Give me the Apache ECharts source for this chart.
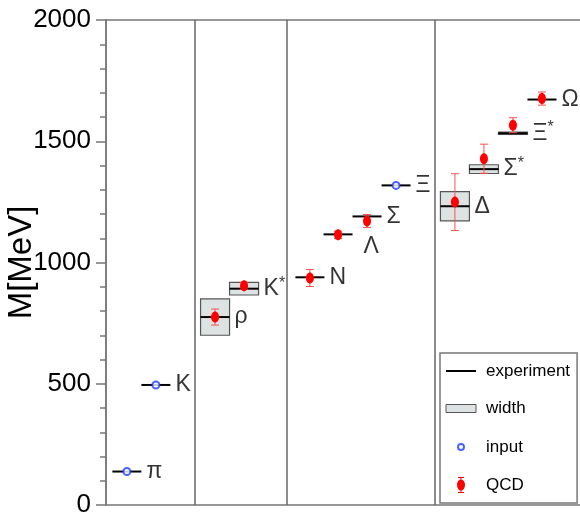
<!DOCTYPE html>
<html>
<head>
<meta charset="utf-8">
<title>Hadron spectrum</title>
<script src="https://cdn.jsdelivr.net/npm/echarts@6/dist/echarts.min.js"></script>
<style>
  html, body { margin: 0; padding: 0; background: #fff; }
  #chart { width: 580px; height: 519px; }
</style>
</head>
<body>
<div id="chart"></div>
<script type="text/javascript">
// particles, in plotting order
var names    = ['π', 'K', 'ρ', 'K*', 'N', 'Λ', 'Σ', 'Ξ', 'Δ', 'Σ*', 'Ξ*', 'Ω'];
var slots    = [0.72, 1.72, 3.76, 4.76, 7.03, 8, 9, 10, 12.03, 13.03, 14.03, 15.03];
var expMass  = [138, 495, 775, 892, 939, 1116, 1190, 1318, 1232, 1385, 1533, 1672];
var expWidth = [0, 0, 75, 26, 0, 0, 0, 0, 60, 18, 5, 0];      // half width of the box
var inputIdx = [0, 1, 7];                                      // π, K, Ξ are inputs
var qcdIdx   = [2, 3, 4, 5, 6, 8, 9, 10, 11];
var qcdMass  = [775, 904, 936, 1114, 1171, 1249, 1428, 1566, 1676];
var qcdErr   = [33, 14, 35, 15, 27, 117, 60, 31, 27];
var separators = [3.07, 6.24, 11.34];
var yTicks = [0, 500, 1000, 1500, 2000];

var HALF = 0.5;
var FONT = "'Liberation Sans', Arial, sans-serif";

var chart = echarts.init(document.getElementById('chart'));

var expData = [], boxData = [], labelData = [], inputData = [], qcdData = [];
for (var i = 0; i < names.length; i++) {
  expData.push([slots[i], expMass[i]]);
  if (expWidth[i] > 0) boxData.push([slots[i], expMass[i], expWidth[i]]);
  var nm = names[i];
  var txt = nm.length > 1 ? nm.charAt(0) + '{s|*}' : nm;
  var item = { value: [slots[i] + HALF, expMass[i]], label: { formatter: txt } };
  if (nm === 'Λ') item.label.offset = [6, 12];
  labelData.push(item);
}
inputIdx.forEach(function (k) { inputData.push([slots[k], expMass[k]]); });
qcdIdx.forEach(function (k, j) { qcdData.push([slots[k], qcdMass[j], qcdErr[j]]); });

var option = {
  animation: false,
  grid: { left: 106, top: 20, width: 478, height: 485, show: true, borderColor: '#777', borderWidth: 1.5,
    containLabel: false, outerBoundsMode: 'none' },
  xAxis: { type: 'value', min: 0, max: 16.48, show: false },
  yAxis: {
    type: 'value', min: 0, max: 2000, interval: 500,
    name: 'M[MeV]', nameLocation: 'middle', nameGap: 68, nameRotate: 90, nameMoveOverlap: false,
    nameTextStyle: { fontSize: 33, color: '#000', fontFamily: FONT },
    axisLine: { show: true, lineStyle: { color: '#777', width: 1.5 } },
    axisTick: { show: true, length: 10, lineStyle: { color: '#777', width: 1.5 } },
    minorTick: { show: true, splitNumber: 5, length: 6, lineStyle: { color: '#777', width: 1.5 } },
    splitLine: { show: false },
    axisLabel: { fontSize: 26, color: '#000', fontFamily: FONT, margin: 15,
      formatter: function (v) { return yTicks.indexOf(v) >= 0 ? String(v) : ''; } }
  },
  legend: {
    left: 440, top: 353, orient: 'vertical', selectedMode: false,
    backgroundColor: '#fff', borderColor: '#777', borderWidth: 1.5,
    padding: [9, 7, 9, 5], itemGap: 19, itemWidth: 30, itemHeight: 18,
    textStyle: { fontSize: 17, color: '#000', fontFamily: FONT, padding: [0, 0, 0, 5] },
    data: [
      { name: 'experiment', icon: 'path://M0,0M30,18M0,8h30v2h-30z', itemStyle: { color: '#000', borderWidth: 0 } },
      { name: 'width', icon: 'path://M0,0M30,18M0,5h30v8h-30z', itemStyle: { color: '#dde3e3', borderColor: '#555', borderWidth: 1 } },
      { name: 'input', icon: 'path://M0,0M30,18M18,9A3,3 0 1,1 12,9A3,3 0 1,1 18,9z', itemStyle: { color: '#fff', borderColor: '#1a3cff', borderWidth: 2 } },
      { name: 'QCD', icon: 'path://M0,0M30,18M14.5,1h1v16h-1zM12,1h6v1h-6zM12,16h6v1h-6zM19,9A4,5.5 0 1,1 11,9A4,5.5 0 1,1 19,9z', itemStyle: { color: '#ff0000', borderWidth: 0 } }
    ]
  },
  series: [
    {
      name: 'width', type: 'custom', data: boxData, z: 2,
      itemStyle: { color: '#dde3e3' },
      renderItem: function (params, api) {
        var x = api.value(0), m = api.value(1), w = api.value(2);
        var a = api.coord([x - HALF, m + w]), b = api.coord([x + HALF, m - w]);
        return { type: 'rect', shape: { x: a[0], y: a[1], width: b[0] - a[0], height: b[1] - a[1] },
          style: { fill: '#dde3e3', stroke: '#555', lineWidth: 1.2 } };
      }
    },
    {
      name: 'experiment', type: 'custom', data: expData, z: 3,
      itemStyle: { color: '#000' },
      renderItem: function (params, api) {
        var x = api.value(0), m = api.value(1);
        var a = api.coord([x - HALF, m]), b = api.coord([x + HALF, m]);
        return { type: 'line', shape: { x1: a[0], y1: a[1], x2: b[0], y2: b[1] },
          style: { stroke: '#000', lineWidth: 2 } };
      },
      markLine: {
        silent: true, symbol: 'none', label: { show: false },
        lineStyle: { color: '#666', width: 1.5, type: 'solid' },
        data: separators.map(function (s) { return { xAxis: s }; })
      }
    },
    {
      name: 'input', type: 'scatter', data: inputData, z: 4,
      symbol: 'emptyCircle', symbolSize: 7,
      itemStyle: { color: '#1a3cff', borderColor: '#1a3cff', borderWidth: 2 }
    },
    {
      name: 'QCD', type: 'custom', data: qcdData, z: 5,
      itemStyle: { color: '#ff0000' },
      renderItem: function (params, api) {
        var x = api.value(0), m = api.value(1), e = api.value(2);
        var c = api.coord([x, m]), top = api.coord([x, m + e]), bot = api.coord([x, m - e]);
        var es = { stroke: '#ff5050', lineWidth: 1 };
        return { type: 'group', children: [
          { type: 'line', shape: { x1: c[0], y1: top[1], x2: c[0], y2: bot[1] }, style: es },
          { type: 'line', shape: { x1: c[0] - 4, y1: top[1], x2: c[0] + 4, y2: top[1] }, style: es },
          { type: 'line', shape: { x1: c[0] - 4, y1: bot[1], x2: c[0] + 4, y2: bot[1] }, style: es },
          { type: 'ellipse', shape: { cx: c[0], cy: c[1], rx: 4, ry: 5.5 }, style: { fill: '#ff0000' } }
        ] };
      }
    },
    {
      name: 'labels', type: 'scatter', data: labelData, z: 6,
      symbolSize: 0, silent: true,
      label: {
        show: true, position: 'right', distance: 5, color: '#000',
        fontSize: 23, fontFamily: FONT,
        rich: { s: { fontSize: 16, fontFamily: FONT, color: '#000', verticalAlign: 'top', padding: [0, 0, 11, 0] } }
      }
    }
  ]
};

chart.setOption(option);
</script>
</body>
</html>
